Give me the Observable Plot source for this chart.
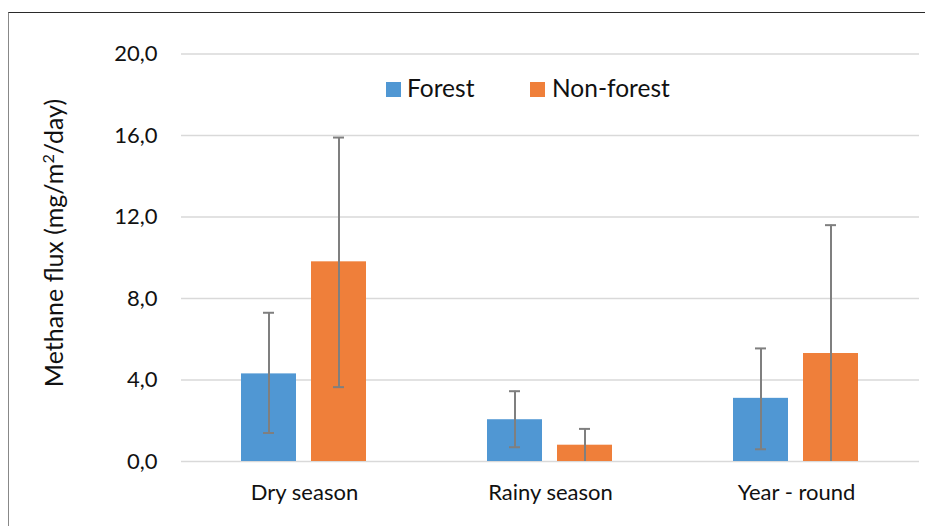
<!DOCTYPE html>
<html>
<head>
<meta charset="utf-8">
<script src="https://cdn.jsdelivr.net/npm/d3@7"></script>
<script src="https://cdn.jsdelivr.net/npm/@observablehq/plot@0.6"></script>
<style>
  html, body { margin: 0; padding: 0; background: #fff; }
  #wrap { position: relative; width: 925px; height: 526px; overflow: hidden; font-family: Lato, "Open Sans", sans-serif; color: #111; }
  #frame { position: absolute; left: 8px; top: 12px; right: -4px; bottom: -4px; border-top: 1.3px solid #2a2a2a; border-left: 1.6px solid #888; }
  #chart { position: absolute; left: 0; top: 0; }
  .leg { position: absolute; font-size: 24.5px; line-height: 24px; white-space: nowrap; }
  .sw { position: absolute; width: 15px; height: 15px; }
  #ytitle { position: absolute; left: 53px; top: 243px; transform: translate(-50%, -50%) rotate(-90deg); font-size: 25px; white-space: nowrap; }
</style>
</head>
<body>
<div id="wrap">
  <div id="frame"></div>
  <div id="chart"></div>
  <div id="ytitle">Methane flux (mg/m<sup style="font-size:0.65em;vertical-align:0.55em;line-height:0">2</sup>/day)</div>
  <div id="legend"></div>
</div>
<script>
// ---- data ----
const categories = ["Dry season", "Rainy season", "Year - round"];
const series = ["Forest", "Non-forest"];
const forest = [4.3, 2.05, 3.1];
const nonForest = [9.8, 0.8, 5.3];
const forestLow = [1.4, 0.7, 0.6];
const forestHigh = [7.3, 3.45, 5.55];
const nonForestLow = [3.65, 0, 0];
const nonForestHigh = [15.9, 1.6, 11.6];
const yTicks = [0, 4, 8, 12, 16, 20];
const colors = ["#5097d3", "#ef7f3a"];

// ---- build table ----
const rows = [];
categories.forEach((c, i) => {
  rows.push({cat: c, series: series[0], value: forest[i], low: forestLow[i], high: forestHigh[i]});
  rows.push({cat: c, series: series[1], value: nonForest[i], low: nonForestLow[i], high: nonForestHigh[i]});
});

const fmt = d => d.toFixed(1).replace(".", ",");

const chart = Plot.plot({
  width: 925,
  height: 526,
  marginLeft: 181,
  marginRight: 6,
  marginTop: 53.5,
  marginBottom: 65,
  style: {fontFamily: "Lato, 'Open Sans', sans-serif", fontSize: "22px", color: "#111", background: "transparent"},
  fx: {domain: categories, padding: 0, axis: "bottom", label: null, tickSize: 0, tickPadding: 23},
  x: {domain: series, paddingInner: 0.214, paddingOuter: 0.864, axis: null},
  y: {domain: [0, 20], ticks: yTicks, tickFormat: fmt, tickSize: 0, tickPadding: 24, label: null},
  color: {domain: series, range: colors},
  marks: [
    Plot.ruleY(yTicks, {stroke: "#d9d9d9", strokeWidth: 1.5}),
    Plot.barY(rows, {fx: "cat", x: "series", y: "value", fill: "series"}),
    Plot.ruleX(rows, {fx: "cat", x: "series", y1: "low", y2: "high", stroke: "#7f7f7f", strokeWidth: 2}),
    Plot.tickY(rows, {fx: "cat", x: "series", y: "high", stroke: "#7f7f7f", strokeWidth: 2, insetLeft: 22, insetRight: 22}),
    Plot.tickY(rows.filter(d => d.low > 0), {fx: "cat", x: "series", y: "low", stroke: "#7f7f7f", strokeWidth: 2, insetLeft: 22, insetRight: 22})
  ]
});
document.getElementById("chart").appendChild(chart);

// ---- legend ----
const legend = document.getElementById("legend");
const legPos = [{sw: 386, tx: 407}, {sw: 530, tx: 552}];
series.forEach((s, i) => {
  const sw = document.createElement("div");
  sw.className = "sw";
  sw.style.left = legPos[i].sw + "px";
  sw.style.top = "82px";
  sw.style.background = colors[i];
  legend.appendChild(sw);
  const t = document.createElement("div");
  t.className = "leg";
  t.style.left = legPos[i].tx + "px";
  t.style.top = "76px";
  t.textContent = s;
  legend.appendChild(t);
});
</script>
</body>
</html>
